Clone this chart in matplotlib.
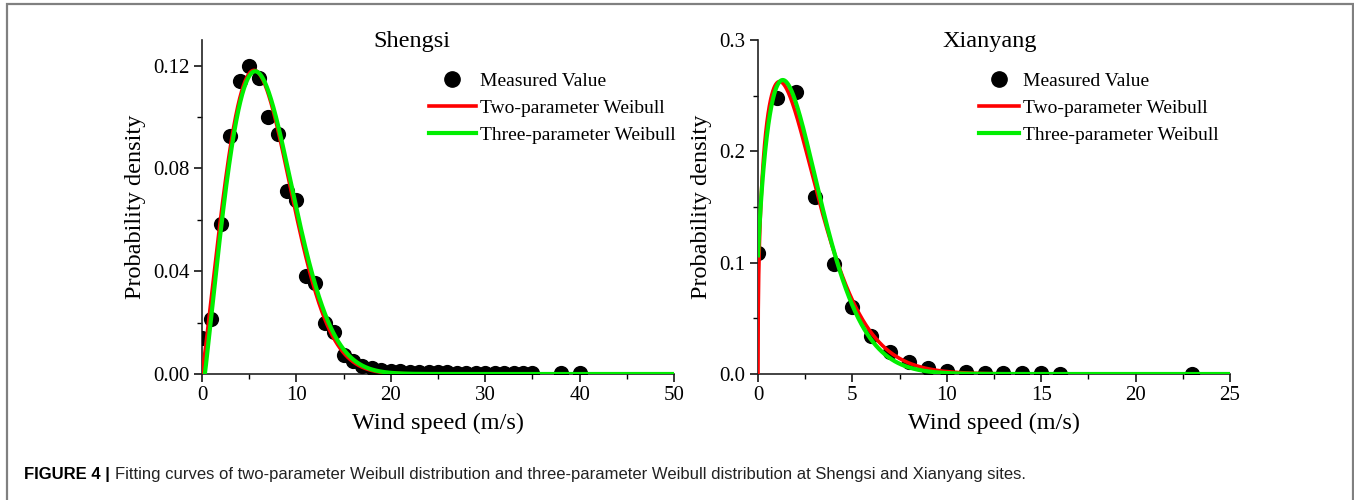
import matplotlib.pyplot as plt
import numpy as np
from matplotlib.patches import Rectangle
from matplotlib.lines import Line2D

# Shengsi - measured probability density
sheng_speed = [0, 1, 2, 3, 4, 5, 6, 7, 8, 9, 10, 11, 12, 13, 14, 15, 16, 17, 18,
               19, 20, 21, 22, 23, 24, 25, 26, 27, 28, 29, 30, 31, 32, 33, 34, 35, 38, 40]
sheng_pdf = [0.014, 0.0213, 0.0583, 0.0927, 0.1139, 0.1197, 0.1154, 0.1002, 0.0935,
             0.0714, 0.0678, 0.0382, 0.0356, 0.0200, 0.0164, 0.0074, 0.0052, 0.0030,
             0.0022, 0.0015, 0.0012, 0.0010, 0.0009, 0.0008, 0.0007, 0.0006, 0.0006,
             0.0005, 0.0005, 0.0004, 0.0004, 0.0004, 0.0003, 0.0003, 0.0003, 0.0003,
             0.0002, 0.0002]

# Xianyang - measured probability density
xian_speed = [0, 1, 2, 3, 4, 5, 6, 7, 8, 9, 10, 11, 12, 13, 14, 15, 16, 23]
xian_pdf = [0.1087, 0.248, 0.2537, 0.159, 0.0988, 0.0598, 0.0342, 0.0195, 0.011,
            0.005, 0.003, 0.002, 0.001, 0.0006, 0.0005, 0.0005, 0.0004, 0.0003]

# Fitted Weibull parameters (shape k, scale c, location)
sheng_2p = (2.1, 7.5, 0.0)
sheng_3p = (2.05, 7.4, 0.3)
xian_2p = (1.4, 2.8, 0.0)
xian_3p = (1.55, 2.85, -0.15)


def weibull_pdf(x, k, c, loc):
    z = np.clip((x - loc) / c, 0, None)
    return (k / c) * z ** (k - 1) * np.exp(-z ** k)


plt.rcParams['font.family'] = 'Liberation Serif'

fig = plt.figure(figsize=(13.54, 5.0), dpi=100)

# outer frame of the figure panel
fig.patches.append(Rectangle((7 / 1354, -0.2), 1346 / 1354, 1.192, transform=fig.transFigure,
                             fill=False, edgecolor='#808080', linewidth=1.6))

panels = [
    dict(rect=[202 / 1354, 0.252, 472 / 1354, 0.668], x=sheng_speed, y=sheng_pdf,
         p2=sheng_2p, p3=sheng_3p, xmax=50, ymax=0.13,
         xmaj=10, xmin=5, ymaj=0.04, ymin=0.02, fmt='{:.2f}', title='Shengsi',
         title_x=412, leg_x=429, hlen=2.4),
    dict(rect=[758 / 1354, 0.252, 472 / 1354, 0.668], x=xian_speed, y=xian_pdf,
         p2=xian_2p, p3=xian_3p, xmax=25, ymax=0.3,
         xmaj=5, xmin=2.5, ymaj=0.1, ymin=0.05, fmt='{:.1f}', title='Xianyang',
         title_x=990, leg_x=979, hlen=2.05),
]

for p in panels:
    ax = fig.add_axes(p['rect'])
    ax.scatter(p['x'], p['y'], s=120, color='black', zorder=3, linewidths=0)
    xs = np.linspace(0, p['xmax'], 2000)
    xs2 = xs[xs >= p['p2'][2]]
    xs3 = xs[xs >= p['p3'][2]]
    ax.plot(xs2, weibull_pdf(xs2, *p['p2']), color='#ff0000', lw=2.6, zorder=4)
    ax.plot(xs3, weibull_pdf(xs3, *p['p3']), color='#00ee00', lw=3.0, zorder=5)

    ax.set_xlim(0, p['xmax'])
    ax.set_ylim(0, p['ymax'])
    xt = np.arange(0, p['xmax'] + 0.01, p['xmaj'])
    ax.set_xticks(xt)
    ax.set_xticklabels(['{:g}'.format(v) for v in xt])
    ax.set_xticks(np.arange(0, p['xmax'] + 0.01, p['xmin']), minor=True)
    yt = np.arange(0, p['ymax'] + 1e-9, p['ymaj'])
    ax.set_yticks(yt)
    ax.set_yticklabels([p['fmt'].format(v) for v in yt])
    ax.set_yticks(np.arange(0, p['ymax'] + 1e-9, p['ymin']), minor=True)

    ax.tick_params(which='major', direction='out', length=6, width=1.1,
                   labelsize=15, pad=3)
    ax.tick_params(which='minor', direction='out', length=3.5, width=1.0)
    ax.spines['top'].set_visible(False)
    ax.spines['right'].set_visible(False)
    for s in ['left', 'bottom']:
        ax.spines[s].set_linewidth(1.2)
        ax.spines[s].set_color('#222222')

    ax.set_xlabel('Wind speed (m/s)', fontsize=17.5, labelpad=5)
    ax.set_ylabel('Probability density', fontsize=17.5, labelpad=5)

    fig.text(p['title_x'] / 1354, 1 - 41 / 500, p['title'], fontsize=17.5,
             ha='center', va='center')

    handles = [
        Line2D([], [], marker='o', linestyle='none', color='black', markersize=11),
        Line2D([], [], color='#ff0000', lw=2.6),
        Line2D([], [], color='#00ee00', lw=3.0),
    ]
    labels = ['Measured Value', 'Two-parameter Weibull', 'Three-parameter Weibull']
    fig.legend(handles, labels, loc='upper left',
               bbox_to_anchor=(p['leg_x'] / 1354, 1 - 72 / 500),
               bbox_transform=fig.transFigure, frameon=False, fontsize=14,
               borderpad=0, borderaxespad=0, handlelength=p['hlen'], handletextpad=0.2,
               labelspacing=0.5)

# caption
renderer = fig.canvas.get_renderer()
t1 = fig.text(24 / 1354, 1 - 474 / 500, 'FIGURE 4 |', family='Liberation Sans',
              fontweight='bold', fontsize=12, va='center', ha='left')
bb = t1.get_window_extent(renderer=renderer)
fig.text((bb.x1 + 5) / 1354, 1 - 474 / 500,
         'Fitting curves of two-parameter Weibull distribution and three-parameter '
         'Weibull distribution at Shengsi and Xianyang sites.',
         family='Liberation Sans', fontsize=12, va='center', ha='left', color='#222222')

plt.savefig('out.png', dpi=100)
